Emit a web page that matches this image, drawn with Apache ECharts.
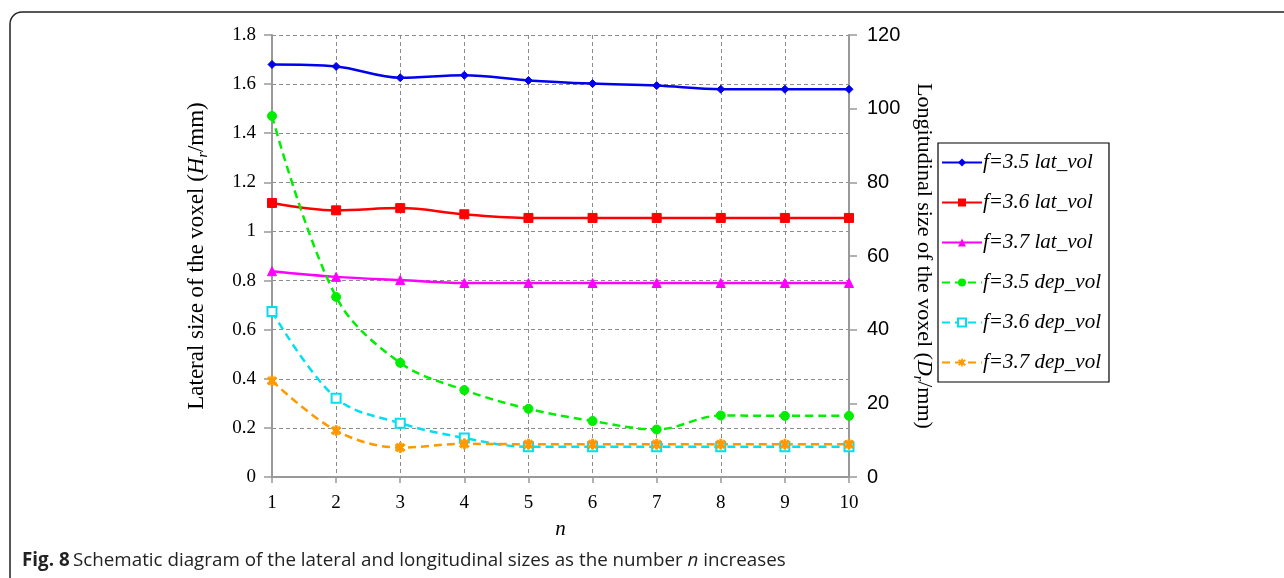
<!DOCTYPE html>
<html><head><meta charset="utf-8">
<script src="https://cdn.jsdelivr.net/npm/echarts@6/dist/echarts.min.js"></script>
<style>html,body{margin:0;padding:0;background:#fff}#c{width:1284px;height:578px}</style>
</head><body><div id="c"></div>
<script>
const categories = ['1','2','3','4','5','6','7','8','9','10'];
const latF35 = [1.68, 1.672, 1.626, 1.636, 1.615, 1.602, 1.594, 1.579, 1.579, 1.579];
const latF36 = [1.116, 1.086, 1.095, 1.070, 1.055, 1.055, 1.055, 1.055, 1.055, 1.055];
const latF37 = [0.838, 0.815, 0.802, 0.790, 0.790, 0.790, 0.790, 0.790, 0.790, 0.790];
const depF35 = [98.0, 48.9, 31.0, 23.6, 18.5, 15.2, 12.9, 16.7, 16.6, 16.6];
const depF36 = [44.9, 21.4, 14.6, 10.6, 8.2, 8.2, 8.2, 8.2, 8.2, 8.2];
const depF37 = [26.1, 12.6, 8.0, 9.0, 8.9, 8.9, 8.9, 8.9, 8.9, 8.9];
const seriesNames = ['f=3.5 lat_vol','f=3.6 lat_vol','f=3.7 lat_vol','f=3.5 dep_vol','f=3.6 dep_vol','f=3.7 dep_vol'];

const serif = '"Liberation Serif", "DejaVu Serif", serif';
const sans = '"Liberation Sans", "Noto Sans", sans-serif';
const star = 'path://M0,2 L2,0 L5,3 L8,0 L10,2 L7,5 L10,8 L8,10 L5,7 L2,10 L0,8 L3,5 Z M4,-1 L6,-1 L6,11 L4,11 Z';

const chart = echarts.init(document.getElementById('c'));
function mk(name, data, color, yIdx, symbol, size, dashed, extra) {
  return Object.assign({
    name, type: 'line', data, yAxisIndex: yIdx, smooth: 0.35,
    symbol, symbolSize: size, showSymbol: true,
    lineStyle: { color, width: 2.5, type: dashed ? [8, 5] : 'solid' },
    itemStyle: { color, borderColor: color },
    emphasis: { disabled: true }, animation: false
  }, extra || {});
}
function axisName(sz) {
  return { fontFamily: serif, fontSize: sz, color: '#000',
    rich: {
      a: { fontFamily: serif, fontSize: sz, color: '#000', lineHeight: sz + 4 },
      i: { fontFamily: serif, fontSize: sz, fontStyle: 'italic', color: '#000', lineHeight: sz + 4 },
      s: { fontFamily: serif, fontSize: Math.round(sz * 0.62), fontStyle: 'italic', color: '#000', lineHeight: sz + 4, verticalAlign: 'bottom' }
    } };
}
chart.setOption({
  animation: false,
  backgroundColor: '#fff',
  grid: { left: 272, right: 435, top: 35, bottom: 101 },
  legend: {
    orient: 'vertical', left: 938, top: 143,
    itemWidth: 40, itemHeight: 10, itemGap: 19,
    padding: [9, 8, 9, 3],
    borderColor: '#000', borderWidth: 1.2,
    textStyle: { fontFamily: serif, fontStyle: 'italic', fontSize: 21, lineHeight: 21, color: '#000', padding: [0,0,0,-4] },
    data: seriesNames
  },
  xAxis: {
    type: 'category', data: categories, boundaryGap: false,
    name: 'n', nameLocation: 'middle', nameGap: 42,
    nameTextStyle: { fontFamily: serif, fontStyle: 'italic', fontSize: 21, color: '#000' },
    axisLine: { lineStyle: { color: '#999', width: 2 } },
    axisTick: { alignWithLabel: true, length: 6, lineStyle: { color: '#999', width: 1.5 } },
    axisLabel: { fontFamily: serif, fontSize: 19, color: '#000', margin: 17 },
    splitLine: { show: true, lineStyle: { color: '#8c8c8c', type: [4, 3], width: 1 } }
  },
  yAxis: [{
    type: 'value', min: 0, max: 1.8, interval: 0.2, position: 'left',
    name: '{a|Lateral size of the voxel (}{i|H}{s|r}{a|/mm)}',
    nameLocation: 'middle', nameGap: 62, nameRotate: 90,
    nameTextStyle: axisName(23),
    axisLine: { show: true, lineStyle: { color: '#999', width: 2 } },
    axisTick: { show: true, length: 8, lineStyle: { color: '#999', width: 1.5 } },
    axisLabel: { fontFamily: serif, fontSize: 19, color: '#000', margin: 16,
      formatter: v => String(Math.round(v * 10) / 10) },
    splitLine: { show: true, lineStyle: { color: '#8c8c8c', type: [4, 3], width: 1 } }
  }, {
    type: 'value', min: 0, max: 120, interval: 20, position: 'right',
    name: '{a|Longitudinal size of the voxel (}{i|D}{s|r}{a|/mm)}',
    nameLocation: 'middle', nameGap: 62, nameRotate: -90,
    nameTextStyle: axisName(22),
    axisLine: { show: true, lineStyle: { color: '#999', width: 2 } },
    axisTick: { show: true, length: 8, lineStyle: { color: '#999', width: 1.5 } },
    axisLabel: { fontFamily: sans, fontSize: 20, color: '#000', margin: 18 },
    splitLine: { show: false }
  }],
  graphic: [
    { type: 'rect', shape: { x: 10, y: 12, width: 1300, height: 600, r: 12 },
      style: { fill: 'none', stroke: '#222', lineWidth: 1.5 }, silent: true, z: 100 },
    { type: 'text', left: 22, top: 551, z: 100,
      style: { text: '{b|Fig. 8} {t|Schematic diagram of the lateral and longitudinal sizes as the number }{it|n}{t| increases}',
        rich: {
          b: { fontFamily: '"Open Sans", sans-serif', fontWeight: 'bold', fontSize: 18.8, fill: '#222' },
          t: { fontFamily: '"Open Sans", sans-serif', fontSize: 18.8, fill: '#222' },
          it: { fontFamily: '"Open Sans", sans-serif', fontStyle: 'italic', fontSize: 18.8, fill: '#222' }
        } } }
  ],
  series: [
    mk(seriesNames[0], latF35, '#0000ee', 0, 'diamond', 8, false),
    mk(seriesNames[1], latF36, '#ff0000', 0, 'rect', 9, false),
    mk(seriesNames[2], latF37, '#ff00ff', 0, 'triangle', 9, false),
    mk(seriesNames[3], depF35, '#00ee00', 1, 'circle', 9, true),
    mk(seriesNames[4], depF36, '#00e0f0', 1, 'emptyRect', 9, true,
       { itemStyle: { color: '#00e0f0', borderColor: '#00e0f0', borderWidth: 2 } }),
    mk(seriesNames[5], depF37, '#ff9900', 1, star, 10, true)
  ]
});
</script></body></html>
